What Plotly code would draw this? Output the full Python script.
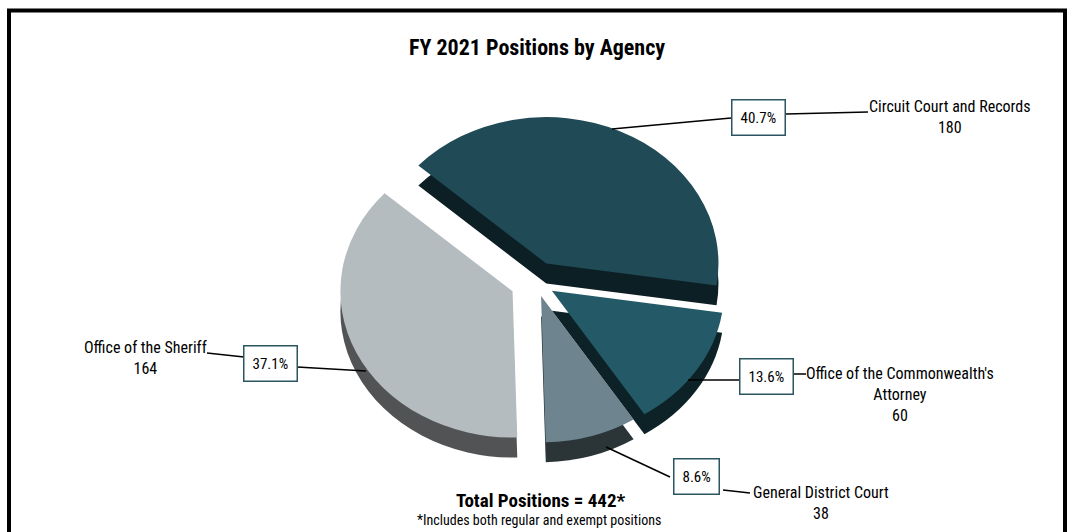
import plotly.graph_objects as go

# ---- data ----
agencies = ["Circuit Court and Records", "Office of the Commonwealth's Attorney",
            "General District Court", "Office of the Sheriff"]
positions = [180, 60, 38, 164]
pct_labels = ["40.7%", "13.6%", "8.6%", "37.1%"]
name_labels = ["Circuit Court and Records<br>180",
               "Office of the Commonwealth's<br>Attorney<br>60",
               "General District Court<br>38",
               "Office of the Sheriff<br>164"]
total_positions = 442

top_colors = ["#1f4a56", "#245a67", "#6e8590", "#b5bcbf"]
side_colors = ["#0c1f24", "#0d2227", "#2b3538", "#525355"]
pulls = [0.14, 0.11, 0.10, 0.15]

FW, FH = 1067, 532
FONT = "Roboto Condensed, DejaVu Sans Condensed, sans-serif"


def px(x):
    return x / FW


def py(y):
    return 1 - y / FH


cx, cy, half = 536, 282, 198
tilt = 0.85         # vertical squash of the pie layer (3-D tilt look)
depth = 23.5        # thickness of the pie before squash
rotation = -48

fig = go.Figure()
# side (depth) layer
fig.add_trace(go.Pie(
    values=positions, labels=agencies, sort=False, direction="clockwise",
    rotation=rotation, pull=pulls, textinfo="none", hoverinfo="skip",
    marker=dict(colors=side_colors, line=dict(width=0)),
    domain=dict(x=[px(cx - half), px(cx + half)],
                y=[py(cy + depth + half), py(cy + depth - half)]),
    showlegend=False,
))
# top layer
fig.add_trace(go.Pie(
    values=positions, labels=agencies, sort=False, direction="clockwise",
    rotation=rotation, pull=pulls, textinfo="none",
    marker=dict(colors=top_colors, line=dict(width=0)),
    domain=dict(x=[px(cx - half), px(cx + half)],
                y=[py(cy + half), py(cy - half)]),
    showlegend=False,
))

# leader lines (page pixel positions)
lines = [
    ((612, 129), (731, 118)), ((786, 114), (868, 112)),
    ((688, 380), (743, 380)), ((789, 374), (806, 374)),
    ((606, 447), (670, 477)), ((723, 490), (750, 493)),
    ((207, 353), (244, 357)), ((297, 367), (366, 371)),
]
shapes = []
for (x0, y0), (x1, y1) in lines:
    shapes.append(dict(type="line", xref="paper", yref="paper",
                       x0=px(x0), y0=py(y0), x1=px(x1), y1=py(y1),
                       line=dict(color="black", width=1.5)))
# outer frame
shapes.append(dict(type="rect", xref="paper", yref="paper",
                   x0=px(9), y0=py(560), x1=px(1065), y1=py(10.5),
                   line=dict(color="black", width=4), layer="above"))

annotations = []
# percentage boxes
box_pos = [(758.5, 117.5), (766, 376.5), (696.5, 476.5), (270.5, 363.5)]
for lab, (x, y) in zip(pct_labels, box_pos):
    annotations.append(dict(
        text=lab, x=px(x), y=py(y), xref="paper", yref="paper",
        showarrow=False, font=dict(family=FONT, size=15, color="black"),
        bgcolor="white", bordercolor="#2b5560", borderwidth=1.5,
        borderpad=8, xanchor="center", yanchor="middle"))
# name labels
name_pos = [(950, 117), (900, 394), (821, 503), (145.5, 358)]
for lab, (x, y) in zip(name_labels, name_pos):
    annotations.append(dict(
        text=lab, x=px(x), y=py(y), xref="paper", yref="paper",
        showarrow=False, font=dict(family=FONT, size=16, color="black"),
        align="center", xanchor="center", yanchor="middle"))
# title and totals
annotations.append(dict(
    text="<b>FY 2021 Positions by Agency</b>", x=px(537), y=py(47),
    xref="paper", yref="paper", showarrow=False,
    xanchor="center", yanchor="middle",
    font=dict(family=FONT, size=22, color="black")))
annotations.append(dict(
    text=f"<b>Total Positions = {total_positions}*</b>", x=px(541), y=py(500),
    xref="paper", yref="paper", showarrow=False,
    xanchor="center", yanchor="middle",
    font=dict(family=FONT, size=19, color="black")))
annotations.append(dict(
    text="*Includes both regular and exempt positions", x=px(539), y=py(520),
    xref="paper", yref="paper", showarrow=False,
    xanchor="center", yanchor="middle",
    font=dict(family=FONT, size=14, color="black")))

fig.update_layout(
    width=FW, height=FH, margin=dict(l=0, r=0, t=0, b=0),
    paper_bgcolor="white", plot_bgcolor="white",
    shapes=shapes, annotations=annotations, showlegend=False,
)

post = (
    "document.body.style.margin='0px';"
    "var pl=document.querySelector('.pielayer');"
    f"if(pl){{pl.setAttribute('transform','translate(0,{cy * (1 - tilt):.2f}) scale(1,{tilt})');}}"
)
fig.write_html("out.html", config={"displayModeBar": False}, post_script=post)
